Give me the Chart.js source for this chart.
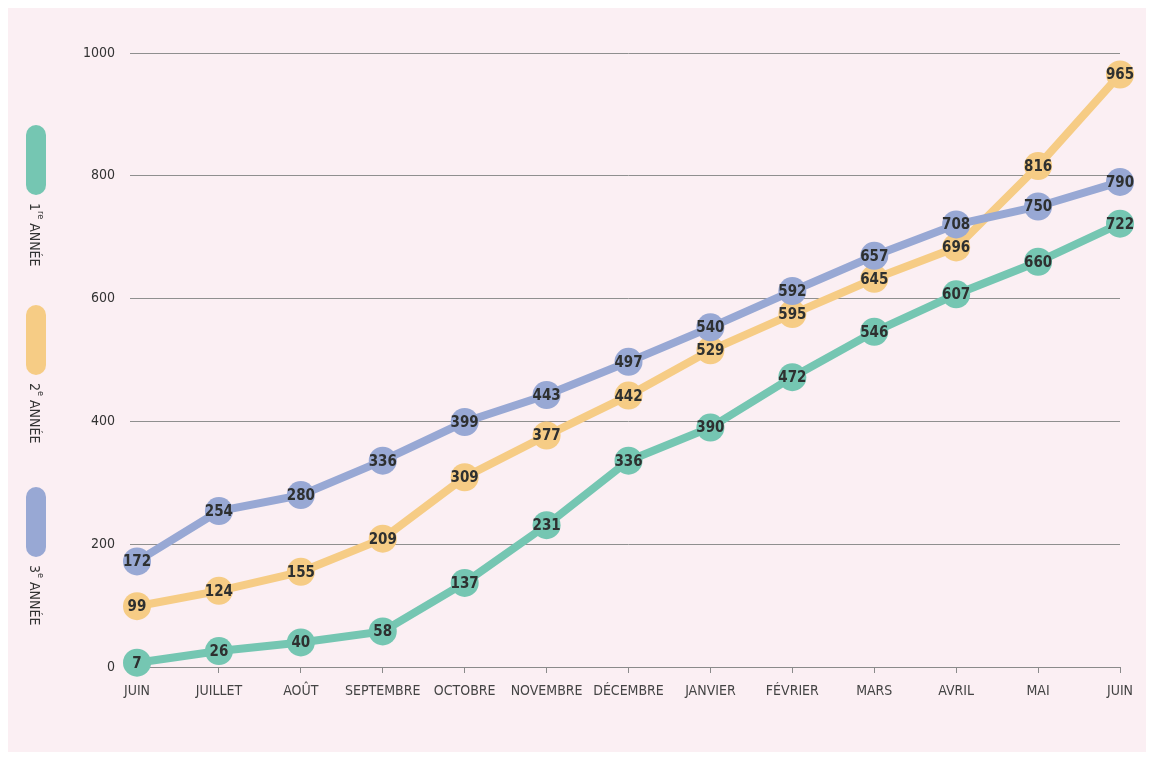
<!DOCTYPE html>
<html>
<head>
<meta charset="utf-8">
<script src="https://cdn.jsdelivr.net/npm/chart.js@4.4.1/dist/chart.umd.min.js"></script>
<style>
  body { margin: 0; background: #fff; }
  #wrap { position: relative; width: 1154px; height: 760px; }
  #paper { position: absolute; left: 8px; top: 8px; right: 8px; bottom: 8px; background: #fbeff3; }
  canvas { position: absolute; left: 0; top: 0; }
  .leg { position: absolute; left: 26px; width: 20px; }
  .bar { width: 20px; height: 70px; border-radius: 10px; }
  .txt { writing-mode: vertical-rl; font: 14px 'Liberation Sans Narrow', 'DejaVu Sans Condensed', sans-serif; color: #333; margin-top: 8px; margin-left: 1px; white-space: nowrap; }
  .txt sup { font-size: 9px; }
</style>
</head>
<body>
<div id="wrap">
  <div id="paper"></div>
  <canvas id="chart" width="1154" height="760"></canvas>
  <div id="legend"></div>
</div>
<script>
const months = ['JUIN', 'JUILLET', 'AOÛT', 'SEPTEMBRE', 'OCTOBRE', 'NOVEMBRE', 'DÉCEMBRE', 'JANVIER', 'FÉVRIER', 'MARS', 'AVRIL', 'MAI', 'JUIN']
const annee1 = [7, 26, 40, 58, 137, 231, 336, 390, 472, 546, 607, 660, 722]
const annee2 = [99, 124, 155, 209, 309, 377, 442, 529, 595, 645, 696, 816, 965]
const annee3 = [172, 254, 280, 336, 399, 443, 497, 540, 592, 657, 708, 750, 790]
const seriesNames = ['1<sup>re</sup> ANNÉE', '2<sup>e</sup> ANNÉE', '3<sup>e</sup> ANNÉE']
const yTicks = [0, 200, 400, 600, 800, 1000]

const colors = ['#75c6b2', '#f6cc85', '#98a8d4']
const font = "'Liberation Sans Narrow', 'DejaVu Sans Condensed', sans-serif"

// legende verticale a gauche
const legendTops = [125, 305, 487]
const legend = document.getElementById('legend')
seriesNames.forEach((name, i) => {
  const el = document.createElement('div')
  el.className = 'leg'
  el.style.top = legendTops[i] + 'px'
  el.innerHTML = `<div class="bar" style="background:${colors[i]}"></div><div class="txt">${name}</div>`
  legend.appendChild(el)
})

// ecarte les pastilles qui se chevauchent (la serie la plus avancee passe au-dessus)
const declutter = {
  id: 'declutter',
  afterDatasetsUpdate (chart) {
    const minGap = 23
    const metas = chart.getSortedVisibleDatasetMetas()
    const n = chart.data.labels.length
    for (let i = 0; i < n; i++) {
      for (let a = 0; a < metas.length; a++) {
        for (let b = a + 1; b < metas.length; b++) {
          const pa = metas[a].data[i]
          const pb = metas[b].data[i]
          if (!pa || !pb) continue
          const gap = Math.abs(pa.y - pb.y)
          if (gap < minGap) {
            const mid = (pa.y + pb.y) / 2
            const up = metas[a].index > metas[b].index ? pa : pb
            const down = up === pa ? pb : pa
            up.y = mid - minGap / 2
            down.y = mid + minGap / 2
          }
        }
      }
    }
  }
}

// valeurs dans les points
const pointLabels = {
  id: 'pointLabels',
  afterDatasetsDraw (chart) {
    const ctx = chart.ctx
    ctx.save()
    ctx.font = 'bold 15px ' + font
    ctx.fillStyle = '#2e3030'
    ctx.textAlign = 'center'
    ctx.textBaseline = 'middle'
    const metas = chart.getSortedVisibleDatasetMetas().slice().reverse()
    metas.forEach(meta => {
      const data = chart.data.datasets[meta.index].data
      meta.data.forEach((pt, i) => {
        ctx.fillText(String(data[i]), pt.x, pt.y + 1)
      })
    })
    ctx.restore()
  }
}

const mkDataset = (label, data, color, order) => ({
  label,
  data,
  borderColor: color,
  backgroundColor: color,
  pointBackgroundColor: color,
  pointBorderWidth: 0,
  pointRadius: 14,
  borderWidth: 8,
  tension: 0,
  clip: false,
  order
})

new Chart(document.getElementById('chart'), {
  type: 'line',
  data: {
    labels: months,
    datasets: [
      mkDataset('1re année', annee1, colors[0], 2),
      mkDataset('2e année', annee2, colors[1], 1),
      mkDataset('3e année', annee3, colors[2], 0)
    ]
  },
  plugins: [declutter, pointLabels],
  options: {
    responsive: false,
    animation: false,
    layout: { padding: { top: 53, right: 34, left: 0, bottom: 0 } },
    plugins: {
      legend: { display: false },
      tooltip: { enabled: false }
    },
    scales: {
      x: {
        offset: false,
        afterFit: (scale) => { scale.height = 93 },
        grid: { drawOnChartArea: false, drawTicks: true, tickLength: 6, color: '#8a8a8a' },
        border: { color: '#8a8a8a', width: 1 },
        ticks: { color: '#444', font: { family: font, size: 14 }, padding: 10, maxRotation: 0, autoSkip: false }
      },
      y: {
        min: 0,
        max: 1000,
        afterFit: (scale) => { scale.width = 137 },
        afterBuildTicks: (scale) => { scale.ticks = yTicks.map(v => ({ value: v })) },
        grid: { color: '#8f8f8f', lineWidth: 1, drawTicks: true, tickLength: 7 },
        border: { display: false },
        ticks: { color: '#333', font: { family: font, size: 14 }, padding: 15, callback: (v) => String(v) }
      }
    }
  }
})
</script>
</body>
</html>
